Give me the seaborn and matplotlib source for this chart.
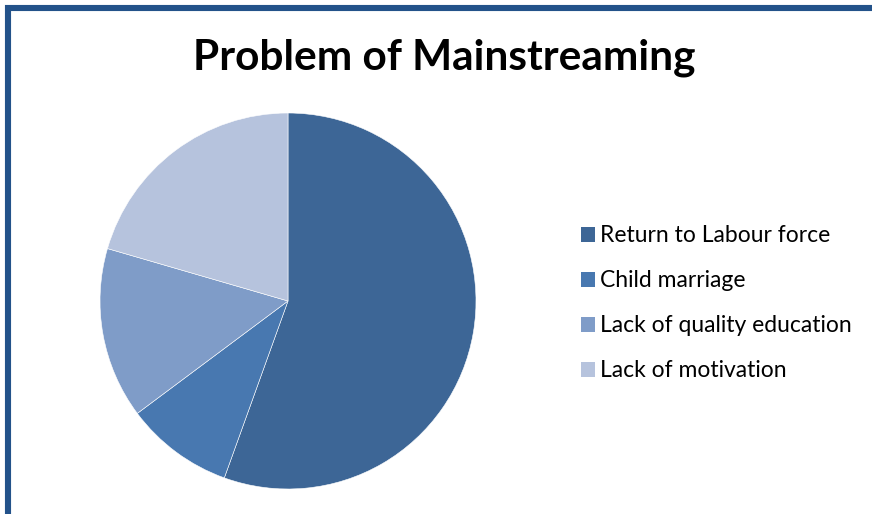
import matplotlib
matplotlib.use("Agg")
import matplotlib.pyplot as plt
from matplotlib.patches import Rectangle, Patch
import seaborn as sns

categories = ["Return to Labour force", "Child marriage",
              "Lack of quality education", "Lack of motivation"]
shares = [55.5, 9.3, 14.7, 20.5]
colors = ["#3D6696", "#4878B0", "#7F9CC8", "#B6C3DD"]

sns.set_theme(style="white")
plt.rcParams["font.family"] = ["Lato", "DejaVu Sans"]
plt.rcParams["text.color"] = "black"

W, H = 872, 514
fig = plt.figure(figsize=(W / 100, H / 100), dpi=100)
fig.patch.set_facecolor("white")

# outer chart frame (runs past the right and bottom edges)
fig.patches.append(Rectangle((8 / W, -0.2), 1.2, 1 - 8 / H + 0.2,
                             transform=fig.transFigure, fill=False,
                             edgecolor="#23528A", linewidth=4.4))

ax = fig.add_axes([100 / W, 25 / H, 376 / W, 376 / H])
ax.pie(shares, colors=colors, startangle=90, counterclock=False,
       radius=1.0, wedgeprops=dict(edgecolor="white", linewidth=0.4))
ax.set_xlim(-1, 1)
ax.set_ylim(-1, 1)
ax.set_aspect("equal")
ax.axis("off")

fig.text(444 / W, 1 - 58 / H, "Problem of Mainstreaming",
         ha="center", va="center", fontsize=30.5, fontweight="bold",
         color="black")

handles = [Patch(facecolor=c, edgecolor="none") for c in colors]
fig.legend(handles, categories, loc="upper left",
           bbox_to_anchor=(572 / W, 1 - 216 / H), frameon=False,
           fontsize=16.5, handlelength=0.62, handleheight=0.62,
           handletextpad=0.22, labelspacing=1.05, borderaxespad=0,
           labelcolor="black")

fig.savefig("out.png", dpi=100)
